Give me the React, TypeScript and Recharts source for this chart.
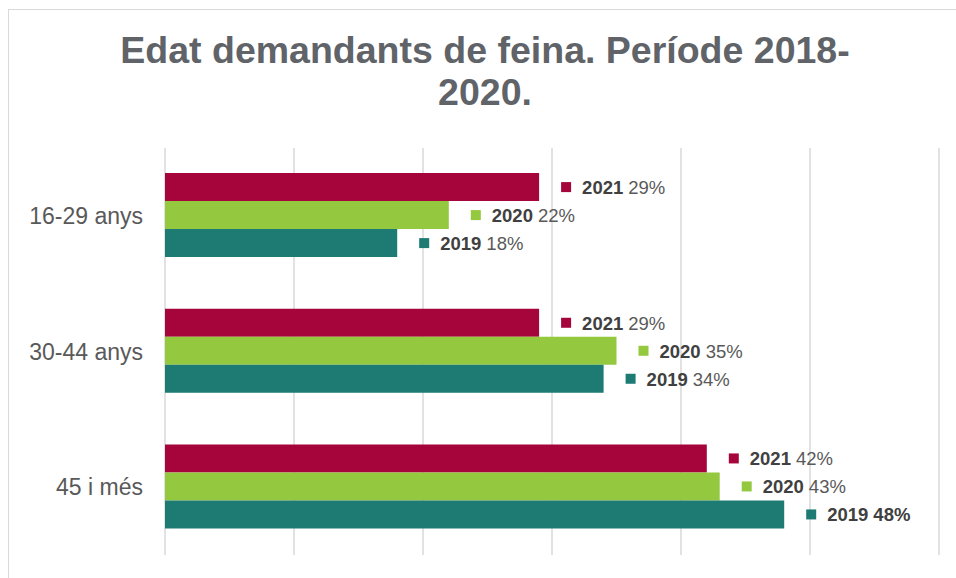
import React from 'react';
import { BarChart, Bar, XAxis, YAxis, CartesianGrid, LabelList } from 'recharts';

const categories = ['16-29 anys', '30-44 anys', '45 i més'];
const series2021 = [29, 29, 42];
const series2020 = [22, 35, 43];
const series2019 = [18, 34, 48];
const seriesNames = ['2021', '2020', '2019'];
const seriesKeys = ['y2021', 'y2020', 'y2019'];
const seriesColors = ['#A5053A', '#93C83F', '#1D7B74'];
const xTicks = [0, 10, 20, 30, 40, 50, 60];
const titleLines = ['Edat demandants de feina. Període 2018-', '2020.'];

const data = categories.map((c, i) => ({
  category: c,
  y2021: series2021[i],
  y2020: series2020[i],
  y2019: series2019[i],
}));
const maxValue = Math.max(...series2021, ...series2020, ...series2019);

const FONT = '"Liberation Sans", Arial, Helvetica, sans-serif';

const NoTick = () => <g />;

const makeLabel = (name: string, color: string) => (props: any) => {
  const { x, y, width, height, value } = props;
  const end = Number(x) + Number(width);
  const cy = Number(y) + Number(height) / 2;
  const strong = value === maxValue;
  return (
    <g>
      <rect x={end + 22} y={cy - 5} width={10} height={10} fill={color} />
      <text
        x={end + 43}
        y={cy}
        dominantBaseline="central"
        fontFamily={FONT}
        fontSize={18.5}
      >
        <tspan fontWeight="bold" fill="#404040">{name}</tspan>
        <tspan dx={5} fill={strong ? '#404040' : '#595959'} fontWeight={strong ? 'bold' : 'normal'}>
          {value + '%'}
        </tspan>
      </text>
    </g>
  );
};

export default function App() {
  return (
    <div style={{ position: 'absolute', left: 0, top: 0, width: 956, height: 578, overflow: 'hidden', background: '#fff' }}>
      <div
        style={{
          position: 'absolute',
          left: 8,
          top: 9,
          width: 947,
          height: 568,
          borderLeft: '1px solid #d9d9d9',
          borderTop: '1px solid #d9d9d9',
        }}
      />
      <div
        style={{
          position: 'absolute',
          left: 14,
          top: 29,
          width: 942,
          textAlign: 'center',
          fontFamily: FONT,
          fontWeight: 'bold',
          fontSize: 37.5,
          lineHeight: '42px',
          color: '#606368',
        }}
      >
        {titleLines.map((l) => (
          <div key={l}>{l}</div>
        ))}
      </div>
      <div style={{ position: 'absolute', left: 0, top: 0 }}>
        <BarChart
          width={956}
          height={578}
          data={data}
          layout="vertical"
          margin={{ top: 148, right: 17, bottom: 23, left: 0 }}
          barCategoryGap="18.5%"
          barGap={0}
        >
          <CartesianGrid horizontal={false} stroke="#d9d9d9" strokeWidth={1.5} />
          <XAxis
            type="number"
            domain={[0, 60]}
            ticks={xTicks}
            tick={<NoTick />}
            axisLine={false}
            tickLine={false}
            height={0}
          />
          <YAxis
            type="category"
            dataKey="category"
            width={165}
            axisLine={false}
            tickLine={false}
            tickSize={0}
            tickMargin={22}
            tick={{ fontSize: 23, fill: '#595959', fontFamily: FONT }}
          />
          {seriesKeys.map((k, i) => (
            <Bar key={k} dataKey={k} fill={seriesColors[i]} isAnimationActive={false}>
              <LabelList dataKey={k} content={makeLabel(seriesNames[i], seriesColors[i])} />
            </Bar>
          ))}
        </BarChart>
      </div>
    </div>
  );
}
